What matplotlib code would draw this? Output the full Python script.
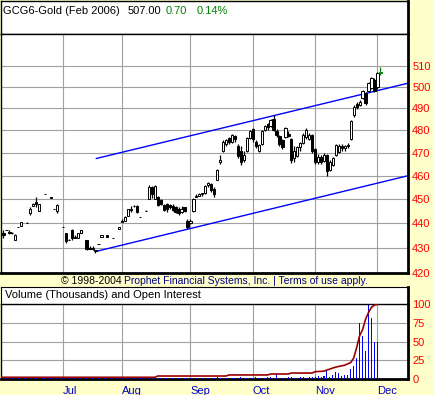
import numpy as np
import matplotlib
matplotlib.use("Agg")
import matplotlib.pyplot as plt
from matplotlib.ticker import FixedLocator, NullLocator

plt.rcParams['font.family'] = ['Liberation Sans', 'DejaVu Sans']

# trading day index (0 = early June 2005), OHLC of GCG6 gold
days = [1, 2, 3, 4, 5, 6, 7, 9, 10, 11, 12, 13, 15, 17, 18, 19,
        21, 22, 23, 24, 25, 26, 27, 29, 30, 31, 32, 33, 34, 36, 38, 40,
        41, 42, 43, 44, 45, 46, 47, 49, 50, 51, 52, 53, 54, 55, 56, 57, 58, 59, 60, 61, 62, 63,
        64, 65, 66, 67, 68, 69, 70, 71, 72, 73, 74, 75, 76, 77, 78, 79, 80, 81, 82, 83, 84,
        85, 86, 87, 88, 89, 90, 91, 92, 93, 94, 95, 96, 97, 98, 99, 100, 101, 102, 103, 104, 105,
        106, 107, 108, 109, 110, 111, 112, 113, 114, 115, 116, 117, 118, 119, 120, 121, 122, 123, 124, 125, 126,
        127, 128]
opens = [436, 437, 436.5, 436, 433, 438.5, 439, 440, 444, 447, 449, 445, 452, 451, 446, 445,
         438.5, 436, 433, 437, 434.5, 434, 436, 433, 430, 429.5, 429, 431.5, 434.5, 435, 434, 437.5,
         440.5, 441, 443, 446, 447, 447, 442.5, 445, 450, 455, 450, 451, 449.5, 447.5, 448, 447.5, 447, 446.5, 446, 444.5, 446.5, 441,
         440, 445, 451, 451.5, 452, 452.5, 456, 456.5, 454.5, 458, 466, 471, 474, 476.5, 475, 477.5, 473, 471, 467, 471, 476.5,
         480.5, 475, 471, 474, 480, 483, 482, 485, 479.5, 477.5, 475.5, 477, 478.5, 476, 467.5, 468.5, 472.5, 474.5, 477, 476, 478,
         471.5, 466, 468, 466.5, 469, 462.5, 464.5, 469, 470.5, 473, 472, 473, 476, 487, 492, 491.5, 495, 497, 498, 499.5, 503,
         500, 506.5]
highs = [437, 437, 437, 436.5, 435.5, 438.5, 440.5, 440.5, 446.5, 448.5, 451, 448, 452, 451, 446, 448,
         438.5, 436, 433.5, 437.5, 435, 436, 437, 433, 430.5, 430.5, 429, 431.5, 435, 435, 434, 438.5,
         441.5, 443, 446, 447, 447.5, 447.5, 442.5, 445.5, 456, 455.5, 456, 451.5, 450, 448, 448.5, 448, 448, 447, 446.5, 447, 446.8, 441.5,
         441.5, 450.5, 452, 452.5, 452.5, 456, 457.5, 457, 455, 463, 469, 475.5, 476, 477, 478.5, 478, 474, 473, 471, 477, 480,
         481, 475.5, 474, 480, 482.5, 483.5, 485, 487, 480.5, 478, 476, 481.5, 479.5, 476.5, 473, 473, 475, 479, 481, 479, 478.5,
         472, 469.5, 469, 470, 469.5, 467, 468, 474, 474, 474, 473.5, 474.5, 484.5, 491.5, 493, 494, 498.5, 497.5, 502.5, 504.5, 504,
         507, 509.5]
lows = [434, 437, 435.5, 435.5, 433, 438.5, 439, 440, 443.5, 447, 446.5, 445, 452, 450.5, 446, 444,
        438.5, 432, 433, 433, 434, 434, 436, 429, 429.5, 429, 428, 431.5, 434.5, 434.5, 434, 437.5,
        440.5, 441, 443, 444.5, 446.5, 444, 442.5, 445, 450, 450.5, 450, 447, 447.5, 445, 444.8, 446, 445, 444, 443.5, 444, 444.5, 437.5,
        439.5, 444.5, 451, 451.5, 451.5, 452, 455, 453, 451, 458, 465, 470.5, 473, 474, 474.5, 475, 467.5, 464.5, 466, 470.5, 476,
        475, 472, 470.5, 473.5, 479.5, 480, 481.5, 479.5, 477, 473, 471.5, 476.5, 477, 465.5, 466, 468, 471, 474, 476, 475.5, 470,
        465, 465, 465, 466, 460, 462, 464, 468.5, 470, 471, 471, 472, 475.5, 486, 489.5, 491, 494.5, 491.5, 497.5, 499, 497.5,
        499, 505.5]
closes = [435, 437, 436, 436, 435, 438.5, 440.5, 440, 446, 448, 448, 448, 452, 450.5, 446, 447.5,
          438.5, 432.5, 433, 434, 434, 436, 437, 429.5, 429.5, 430, 428.5, 431.5, 435, 434.5, 434, 438.5,
          441, 442.5, 446, 445.5, 447, 444.5, 442.5, 445, 455, 452, 455.5, 447.5, 448, 445.5, 446, 446.5, 445.5, 444.5, 444, 446, 445, 438.5,
          441, 450, 451.5, 452, 452.5, 455.5, 457, 454, 452, 462.5, 467, 475, 475.5, 475, 478, 476, 468.5, 466, 469, 476.5, 479.5,
          476, 473, 473.5, 479.5, 482, 481.5, 484.5, 480, 478, 474, 472.5, 481, 477.5, 467, 471, 472.5, 474.5, 478, 480, 478, 471,
          466, 468, 466, 469, 462, 466, 467.5, 473.5, 473, 472, 473, 473.5, 484, 490.5, 490.5, 493, 498, 492.5, 502, 504, 498,
          506.3, 507]

# volume (scaled 0-100), one value per trading day 0..128
vol_jun = [0.8, 1.0, 0.8, 0.8, 1.0, 0.8, 1.0, 0.8, 0.8, 1.0, 1.0, 0.8, 1.0, 0.8, 0.8, 1.0, 0.8, 0.8, 1.0, 1.0, 0.8]
vol_jul = [0.8, 1.0, 1.0, 0.8, 1.0, 0.8, 0.8, 1.0, 1.0, 0.8, 1.0, 1.0, 0.8, 1.0, 1.0, 0.8, 1.0, 0.8, 1.0, 1.0]
vol_aug = [1.0, 1.2, 1.0, 1.5, 1.0, 1.2, 1.0, 1.0, 1.2, 1.5, 1.2, 1.0, 1.0, 1.2, 1.0, 1.0, 1.2, 1.0, 1.2, 1.0, 1.0, 1.5, 1.2]
vol_sep = [1.5, 2.0, 1.2, 1.2, 1.5, 1.5, 2.0, 1.5, 1.5, 2.5, 2.0, 2.0, 1.5, 2.0, 1.5, 1.5, 2.0, 2.5, 1.5, 2.0, 2.0]
vol_oct = [2.0, 2.5, 2.0, 1.5, 2.0, 3.0, 2.5, 2.0, 7.6, 2.0, 1.5, 2.0, 3.0, 2.5, 2.0, 2.0, 2.5, 3.0, 2.0, 2.5, 3.0]
vol_nov = [3.0, 4.0, 3.0, 4.0, 11.0, 3.0, 6.0, 9.6, 7.6, 4.0, 6.0, 6.0, 13.0, 18.0, 27.7, 75.0, 57.0, 37.0, 99.0, 81.0, 49.0]
vol_dec = [49.0, 0.0]

# open interest (scaled 0-100)
oi_days = [0, 52, 53, 76, 77, 90, 91, 97, 98, 105, 106, 109, 110, 112, 113, 116, 118, 119, 120, 121, 122, 123, 124, 125, 126, 127]
oi_vals = [2.3, 2.3, 4.0, 4.0, 5.4, 5.4, 6.7, 6.7, 8.0, 8.0, 9.8, 10.5, 12, 14.7, 16, 18.5, 22, 28, 42, 58, 66, 80, 89, 96, 99, 100]

# channel lines drawn on the chart
chan_days = [32.3, 137.3]
chan_upper = [467.5, 501.7]
chan_lower = [428.5, 460.0]

month_days = [21, 41, 64, 85, 106, 127]
month_labels = ['Jul', 'Aug', 'Sep', 'Oct', 'Nov', 'Dec']
price_ticks = [420, 430, 440, 450, 460, 470, 480, 490, 500, 510]
vol_ticks = [0, 25, 50, 75, 100]

W, H = 434, 395
fig = plt.figure(figsize=(W / 100, H / 100), dpi=100, facecolor='#ffffcc')


def box(x0, y0, x1, y1):
    return [x0 / W, 1 - y1 / H, (x1 - x0) / W, (y1 - y0) / H]


grid_col = '#a0a0a0'
x_max = 137.3

# header box
axh = fig.add_axes(box(0.5, 0.5, 408, 34))
axh.set_xticks([])
axh.set_yticks([])
for s in axh.spines.values():
    s.set_linewidth(1.0)
axh.spines['right'].set_linewidth(2.0)
hy = 1 - 11 / 34
axh.text(3 / 408, hy, 'GCG6-Gold (Feb 2006)', transform=axh.transAxes, va='center', fontsize=8)
axh.text(127 / 408, hy, '507.00', transform=axh.transAxes, va='center', fontsize=8)
axh.text(165 / 408, hy, '0.70', transform=axh.transAxes, va='center', fontsize=8, color='#008000')
axh.text(196 / 408, hy, '0.14%', transform=axh.transAxes, va='center', fontsize=8, color='#008000')

# price panel
ax = fig.add_axes(box(0.5, 34, 408, 272.7))
ax.set_facecolor('white')
ax.set_yscale('log')
ax.set_ylim(420, 525.4)
ax.set_xlim(0, x_max)
ax.yaxis.set_major_locator(FixedLocator(price_ticks))
ax.yaxis.set_minor_locator(NullLocator())
ax.set_yticklabels([str(t) for t in price_ticks])
ax.yaxis.tick_right()
ax.tick_params(axis='y', length=0, pad=3, labelcolor='#ff0000', labelsize=8)
ax.set_xticks(month_days)
ax.tick_params(axis='x', length=0, labelbottom=False)
ax.grid(True, color=grid_col, lw=0.8)
ax.set_axisbelow(True)
for s in ax.spines.values():
    s.set_linewidth(1.0)
ax.spines['right'].set_linewidth(2.0)
ax.spines['bottom'].set_linewidth(2.0)

d = np.array(days, dtype=float)
o = np.array(opens)
hi = np.array(highs)
lo = np.array(lows)
c = np.array(closes)
colors = ['black'] * len(d)
colors[-1] = '#008000'
face = ['white' if cc >= oo else 'black' for oo, cc in zip(o, c)]
face[-1] = 'white'
bot = np.minimum(o, c)
top = np.maximum(o, c)
ax.vlines(d, lo, hi, colors=colors, lw=0.9, zorder=3)
ax.bar(d, top - bot, bottom=bot, width=0.75, color=face, edgecolor=colors, lw=0.7, zorder=4)

ax.plot(chan_days, chan_upper, color='#0000ff', lw=1.0, zorder=2)
ax.plot(chan_days, chan_lower, color='#0000ff', lw=1.0, zorder=2)

# copyright line: second part placed right after the first
fig.canvas.draw()
t1 = fig.text(61 / W, 1 - 281.5 / H, '\u00a9 1998-2004 ', fontsize=7.5, va='center', color='black')
ext = t1.get_window_extent(renderer=fig.canvas.get_renderer())
fig.text(ext.x1 / W, 1 - 281.5 / H, 'Prophet Financial Systems, Inc. | Terms of use apply.',
         fontsize=7.5, va='center', color='#000080')

# volume header
axvh = fig.add_axes(box(0.5, 287, 408, 304.3))
axvh.set_xticks([])
axvh.set_yticks([])
axvh.spines['bottom'].set_visible(False)
axvh.spines['right'].set_linewidth(2.0)
axvh.text(5 / 408, 0.55, 'Volume (Thousands) and Open Interest', transform=axvh.transAxes,
          va='center', fontsize=8)

# volume / open interest panel
axv = fig.add_axes(box(0.5, 304.3, 408, 379))
volume = vol_jun + vol_jul + vol_aug + vol_sep + vol_oct + vol_nov + vol_dec
vol_days = np.arange(len(volume))
axv.bar(vol_days, volume, width=0.35, color='#0000ff', zorder=3)
axv.plot(oi_days, oi_vals, color='#990000', lw=1.2, zorder=4)
axv.set_xlim(0, x_max)
axv.set_ylim(0, 100)
axv.set_yticks(vol_ticks)
axv.yaxis.tick_right()
axv.tick_params(axis='y', length=0, pad=3, labelcolor='#ff0000', labelsize=8)
axv.set_xticks(month_days)
axv.set_xticklabels(month_labels, ha='left')
axv.tick_params(axis='x', length=0, pad=5, labelcolor='#0000cc', labelsize=8)
axv.grid(True, color=grid_col, lw=0.8)
axv.set_axisbelow(True)
for s in axv.spines.values():
    s.set_linewidth(1.0)
axv.spines['right'].set_linewidth(2.0)
axv.spines['bottom'].set_linewidth(2.0)

fig.savefig('out.png', dpi=100, facecolor=fig.get_facecolor())
